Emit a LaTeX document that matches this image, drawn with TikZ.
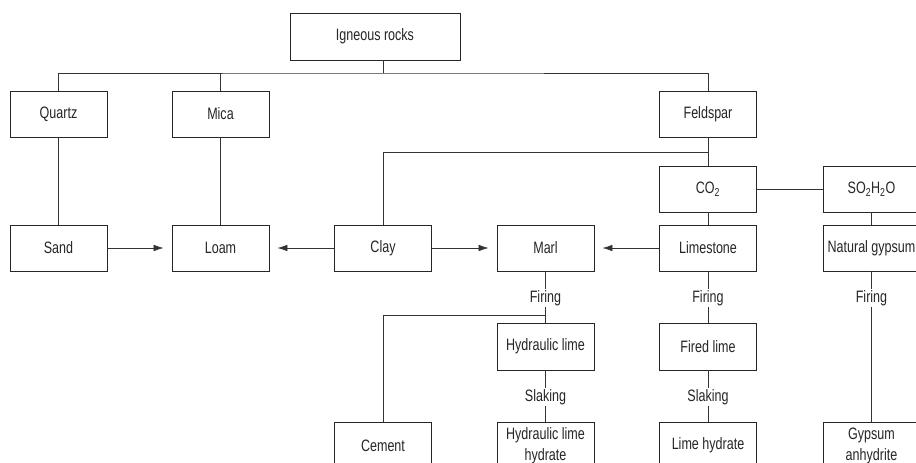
\documentclass[tikz,border=0pt]{standalone}
\usepackage{fontspec}
\setmainfont{Liberation Sans}[FakeStretch=0.76]
\usetikzlibrary{arrows.meta}
\begin{document}
\begin{tikzpicture}[x=1pt,y=-1pt,
  every node/.style={font=\fontsize{16.5}{21}\selectfont, text=black!85},
  box/.style={draw=black!85, line width=0.8pt, minimum width=97pt, minimum height=46pt, inner sep=0pt, align=center},
  lbl/.style={inner sep=1.5pt},
  link/.style={draw=black!80, line width=0.7pt},
  arr/.style={link, -{Latex[length=10pt,width=6.5pt]}, shorten >=8pt, shorten <=0pt}]
\path[use as bounding box] (0,0) rectangle (916,463);
\clip (0,0) rectangle (916,463);
\fill[white] (0,0) rectangle (916,463);

% raw materials
\node[box, minimum width=170pt, minimum height=47pt] (ign) at (375,36.5) {Igneous rocks};
\node[box] (quartz) at (58.5,114) {Quartz};
\node[box] (mica) at (220.5,114) {Mica};
\node[box] (feld) at (708,114) {Feldspar};
\node[box] (co2) at (708,189) {CO\textsubscript{2}};
\node[box] (so2) at (871.5,189) {SO\textsubscript{2}H\textsubscript{2}O};

% second row
\node[box] (sand) at (58.5,248) {Sand};
\node[box] (loam) at (220.5,248) {Loam};
\node[box] (clay) at (383,248) {Clay};
\node[box] (marl) at (545.5,248) {Marl};
\node[box] (lime) at (708,248) {Limestone};
\node[box] (ngyp) at (871.5,248) {Natural gypsum};

% processing steps
\node[lbl] (fir1) at (545.5,298) {Firing};
\node[lbl] (fir2) at (708,298) {Firing};
\node[lbl] (fir3) at (871.5,298) {Firing};
\node[box, minimum height=47pt] (hlime) at (545.5,346.5) {Hydraulic lime};
\node[box, minimum height=47pt] (fired) at (708,346.5) {Fired lime};
\node[lbl] (sla1) at (545.5,397) {Slaking};
\node[lbl] (sla2) at (708,397) {Slaking};

% products
\node[box, minimum height=47pt] (cement) at (383,445.5) {Cement};
\node[box, minimum height=47pt] (hlh) at (545.5,445.5) {Hydraulic lime\\hydrate};
\node[box, minimum height=47pt] (limeh) at (708,445.5) {Lime hydrate};
\node[box, minimum height=47pt] (gyps) at (871.5,445.5) {Gypsum\\anhydrite};

% junction points
\coordinate (j1) at (383,73);
\coordinate (j2) at (708,152);
\coordinate (j3) at (545.5,315);

% tree from igneous rocks
\draw[link] (ign.south -| j1) -- (j1);
\draw[link] (quartz.north) |- (j1) -| (feld.north);
\draw[link] (mica.north) -- (mica.north |- j1);
\draw[link] (quartz) -- (sand);
\draw[link] (mica) -- (loam);
\draw[link] (feld) -- (co2);
\draw[link] (j2) -| (clay.north);
\draw[link] (co2) -- (lime);
\draw[link] (co2) -- (so2);
\draw[link] (so2) -- (ngyp);

% mixing arrows
\draw[arr] (sand) -- (loam);
\draw[arr] (clay) -- (loam);
\draw[arr] (clay) -- (marl);
\draw[arr] (lime) -- (marl);

% firing and slaking
\draw[link] (marl) -- (fir1);
\draw[link] (fir1) -- (hlime);
\draw[link] (j3) -| (cement.north);
\draw[link] (hlime) -- (sla1);
\draw[link] (sla1) -- (hlh);
\draw[link] (lime) -- (fir2);
\draw[link] (fir2) -- (fired);
\draw[link] (fired) -- (sla2);
\draw[link] (sla2) -- (limeh);
\draw[link] (ngyp) -- (fir3);
\draw[link] (fir3) -- (gyps);
\end{tikzpicture}
\end{document}
